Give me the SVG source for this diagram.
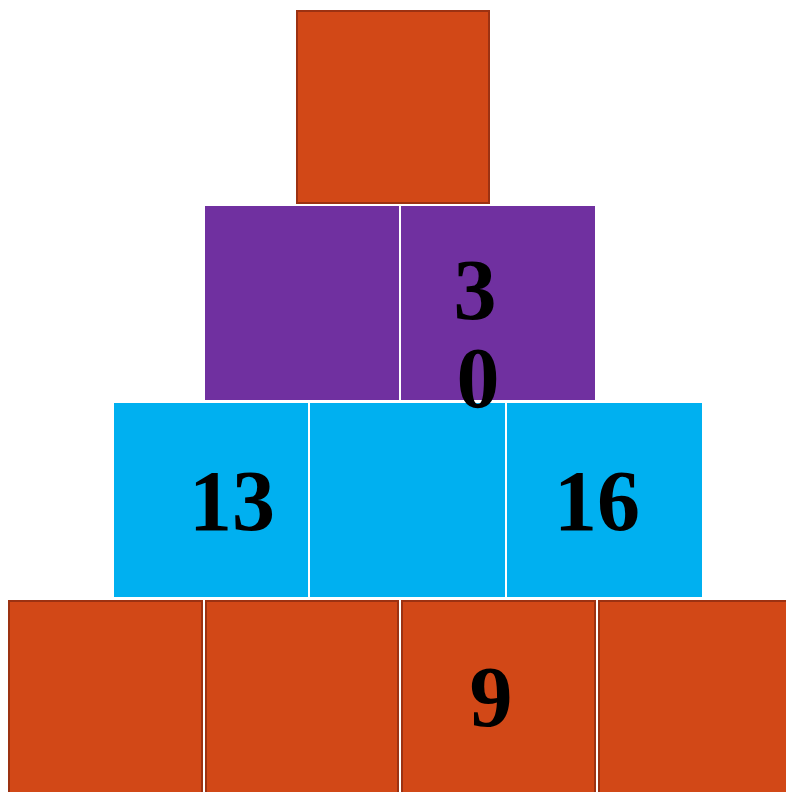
<svg xmlns="http://www.w3.org/2000/svg" width="786" height="792" viewBox="0 0 786 792">
<style>
.o{fill:#D24817;stroke:#9C3212;stroke-width:2}
.p{fill:#7030A0}
.c{fill:#00B0F0}
.t{font-family:"Liberation Serif","Times New Roman",serif;font-weight:bold;font-size:86px;fill:#000;text-anchor:middle}
</style>
<rect width="786" height="792" fill="#fff"/>
<g id="top"><rect class="o" x="297" y="11" width="192" height="192"/></g>
<g id="p1"><rect class="p" x="205" y="206" width="194" height="194"/></g>
<g id="p2"><rect class="p" x="401" y="206" width="194" height="194"/></g>
<g id="c1"><rect class="c" x="114" y="403" width="194" height="194"/><text class="t" x="232" y="530">13</text></g>
<g id="c2"><rect class="c" x="310" y="403" width="195" height="194"/></g>
<g id="c3"><rect class="c" x="507" y="403" width="195" height="194"/><text class="t" x="597" y="530">16</text></g>
<g id="b1"><rect class="o" x="9" y="601" width="193" height="192"/></g>
<g id="b2"><rect class="o" x="206" y="601" width="192" height="192"/></g>
<g id="b3"><rect class="o" x="402" y="601" width="193" height="192"/><text class="t" x="491" y="726">9</text></g>
<g id="b4"><rect class="o" x="599" y="601" width="190" height="192"/></g>
<g id="p2text"><text class="t" x="475" y="319">3</text><text class="t" x="478" y="407">0</text></g>
<g id="connectors"></g>
</svg>
